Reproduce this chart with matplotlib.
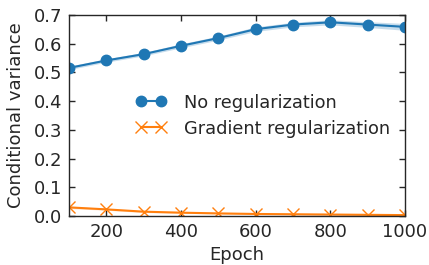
import numpy as np
import matplotlib
matplotlib.use("Agg")
import matplotlib.pyplot as plt

epochs = [100, 200, 300, 400, 500, 600, 700, 800, 900, 1000]
no_reg = [0.516, 0.542, 0.564, 0.593, 0.620, 0.651, 0.667, 0.675, 0.667, 0.659]
no_reg_err = [0.006, 0.006, 0.006, 0.007, 0.007, 0.008, 0.008, 0.009, 0.010, 0.012]
grad_reg = [0.030, 0.023, 0.015, 0.0115, 0.009, 0.007, 0.006, 0.005, 0.004, 0.003]
grad_reg_err = [0.004, 0.003, 0.003, 0.002, 0.002, 0.002, 0.002, 0.002, 0.002, 0.002]

BLUE = "#1f77b4"
ORANGE = "#ff7f0e"
TEXT = "#262626"

plt.rcParams["font.family"] = "DejaVu Sans"
plt.rcParams["font.size"] = 13
plt.rcParams["text.color"] = TEXT
plt.rcParams["axes.labelcolor"] = TEXT
plt.rcParams["xtick.color"] = TEXT
plt.rcParams["ytick.color"] = TEXT

fig = plt.figure(figsize=(4.29, 2.65), dpi=100)
ax = fig.add_axes([0.161, 0.185, 0.783, 0.758])

x = np.array(epochs)
y1, e1 = np.array(no_reg), np.array(no_reg_err)
y2, e2 = np.array(grad_reg), np.array(grad_reg_err)

ax.fill_between(x, y1 - e1, y1 + e1, color=BLUE, alpha=0.25, lw=0)
ax.plot(x, y1, "-o", color=BLUE, ms=7.5, lw=1.5, label="No regularization")
ax.fill_between(x, y2 - e2, y2 + e2, color=ORANGE, alpha=0.25, lw=0)
ax.plot(x, y2, "-x", color=ORANGE, ms=9, mew=1.0, lw=1.5, label="Gradient regularization")

ax.set_xlim(100, 1000)
ax.set_ylim(0, 0.7)
ax.set_xticks([200, 400, 600, 800, 1000])
ax.set_yticks(np.arange(0, 0.71, 0.1))
ax.set_yticklabels([f"{v:.1f}" for v in np.arange(0, 0.71, 0.1)])
ax.tick_params(direction="in", top=True, right=True, length=4, width=1, pad=5)
for s in ax.spines.values():
    s.set_linewidth(1.0)
    s.set_color(TEXT)

ax.set_xlabel("Epoch", labelpad=4)
ax.set_ylabel("Conditional variance", labelpad=6)
ax.legend(loc="center", bbox_to_anchor=(0.578, 0.5), frameon=False, numpoints=2,
          handlelength=1.7, handletextpad=1.0, fontsize=12.8, labelspacing=0.45)

fig.savefig("out.png", dpi=100)
